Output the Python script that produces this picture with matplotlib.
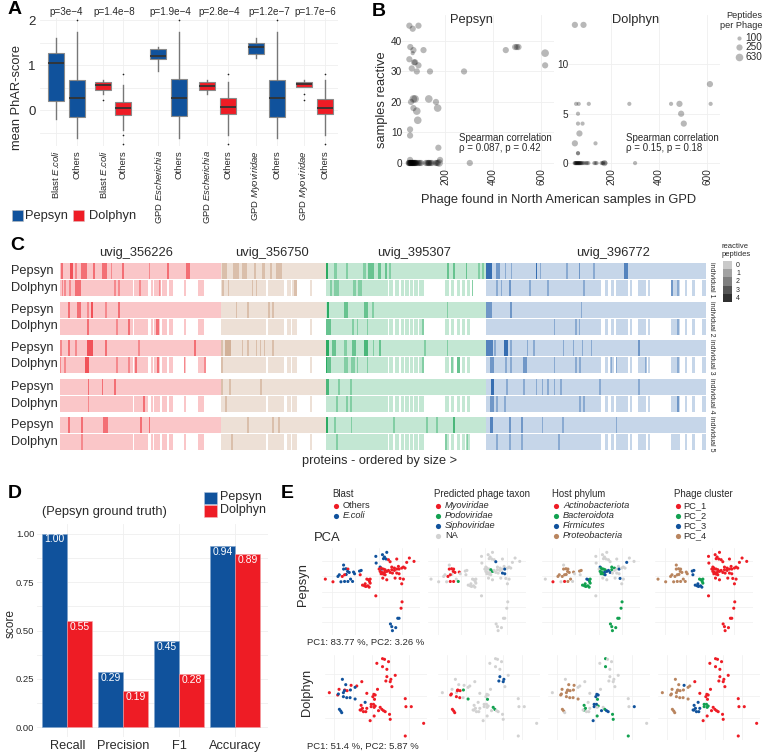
import numpy as np
import matplotlib
matplotlib.use('Agg')
import matplotlib.pyplot as plt
from matplotlib.patches import Rectangle

plt.rcParams['font.family'] = ['Liberation Sans', 'DejaVu Sans']
plt.rcParams['mathtext.fontset'] = 'custom'
plt.rcParams['mathtext.rm'] = 'Liberation Sans'
plt.rcParams['mathtext.it'] = 'Liberation Sans:italic'
plt.rcParams['axes.unicode_minus'] = True

W, H = 768, 754
BLUE = '#10529C'
RED = '#EE1C25'
GREEN = '#12A150'
TAN = '#B9855F'
GREY = '#D2D2D2'
GRID = '#EFEFEF'
INK = '#2A2A2A'

# ---- panel A: box stats, one entry per box
box_labels = ['Blast $\\mathit{E}$.$\\mathit{coli}$', 'Others', 'Blast $\\mathit{E}$.$\\mathit{coli}$', 'Others',
              'GPD $\\mathit{Escherichia}$', 'Others', 'GPD $\\mathit{Escherichia}$', 'Others',
              'GPD $\\mathit{Myoviridae}$', 'Others', 'GPD $\\mathit{Myoviridae}$', 'Others']
box_q1 = [0.20, -0.16, 0.45, -0.10, 1.13, -0.13, 0.45, -0.08, 1.25, -0.15, 0.51, -0.09]
box_med = [1.04, 0.26, 0.55, 0.04, 1.20, 0.26, 0.54, 0.07, 1.41, 0.26, 0.57, 0.05]
box_q3 = [1.26, 0.66, 0.62, 0.18, 1.35, 0.69, 0.63, 0.27, 1.50, 0.68, 0.62, 0.24]
box_lo = [-0.20, -0.63, 0.35, -0.45, 0.88, -0.63, 0.35, -0.55, 1.15, -0.63, 0.51, -0.55]
box_hi = [1.60, 1.73, 0.67, 0.56, 1.40, 1.73, 0.67, 0.62, 1.60, 1.73, 0.67, 0.67]
box_fliers = [[], [2.0], [0.22], [0.80, -0.55, -0.75], [], [2.0], [], [0.80, -0.75],
              [], [2.0], [0.35, 0.22], [0.80, -0.75]]
box_method = ['P', 'P', 'D', 'D'] * 3
p_labels = ['p=3e\u22124', 'p=1.4e\u22128', 'p=1.9e\u22124', 'p=2.8e\u22124', 'p=1.2e\u22127', 'p=1.7e\u22126']

# ---- panel B: phage found vs samples reactive, peptides per phage
pep_found = [51, 65, 89, 55, 68, 65, 110, 51, 71, 75, 89, 61, 82, 137, 279, 453, 492, 499, 506, 617, 617,
             75, 68, 132, 58, 162, 169, 68, 82, 86, 54, 54, 172, 179, 54,
             48, 50, 52, 54, 55, 57, 58, 60, 62, 63, 65, 66, 68, 70, 72, 74, 75, 78, 80, 85, 90, 95, 100,
             120, 125, 130, 132, 135, 140, 145, 160, 165, 170, 175, 303]
pep_react = [45, 44, 45, 38, 37, 36, 37, 34, 33, 33, 32, 31, 30, 30, 30, 37, 38, 38, 38, 36, 32,
             21, 21, 21, 20, 20, 18, 18, 17, 14, 11, 9, 5, 1, 1,
             0, 0, 0, 0, 0, 0, 0, 0, 0, 0, 0, 0, 0, 0, 0, 0, 0, 0, 0, 0, 0, 0, 0,
             0, 0, 0, 0, 0, 0, 0, 0, 0, 0, 0, 0]
pep_size = [250, 250, 250, 250, 250, 100, 250, 250, 250, 250, 250, 250, 250, 250, 250, 250, 250, 250, 250, 630, 250,
            630, 630, 630, 250, 250, 630, 250, 630, 630, 250, 250, 250, 250, 250,
            250, 250, 250, 250, 250, 250, 250, 250, 250, 250, 250, 250, 250, 250, 250, 250, 250, 250, 250, 250, 250, 250, 250,
            250, 250, 250, 250, 250, 250, 250, 250, 250, 250, 630, 250]
dol_found = [49, 85, 612, 54, 65, 107, 276, 450, 485, 615, 62, 492, 62, 81, 503, 68, 49, 135, 62, 62,
             48, 50, 52, 54, 56, 58, 60, 62, 64, 66, 68, 70, 72, 75, 78, 82, 88, 95, 100, 105,
             130, 135, 140, 160, 165, 168, 172, 176, 300]
dol_react = [14, 14, 8, 6, 6, 6, 6, 6, 6, 6, 5, 5, 4, 4, 4, 3, 2, 2, 1, 1,
             0, 0, 0, 0, 0, 0, 0, 0, 0, 0, 0, 0, 0, 0, 0, 0, 0, 0, 0, 0,
             0, 0, 0, 0, 0, 0, 0, 0, 0]
dol_size = [250, 250, 250, 100, 100, 100, 100, 100, 250, 100, 100, 250, 100, 100, 250, 250, 250, 100, 100, 100,
            100, 100, 100, 100, 100, 100, 100, 100, 100, 100, 100, 100, 100, 100, 100, 100, 100, 100, 100, 100,
            100, 100, 100, 100, 100, 100, 250, 100, 100]
size_breaks = [100, 250, 630]

# ---- panel C: protein blocks and reactive peptide hits (start, end, count)
genome_names = ['uvig_356226', 'uvig_356750', 'uvig_395307', 'uvig_396772']
genome_edges = [0, 483, 797, 1277, 1938]
dolphyn_blocks = [(0, 218), (222, 265), (272, 278), (282, 300), (306, 322), (327, 338), (372, 378), (415, 433),
                  (483, 618), (623, 672), (680, 692), (697, 712), (750, 755),
                  (797, 985), (987, 1000), (1005, 1017), (1023, 1031), (1035, 1047), (1049, 1060), (1063, 1073),
                  (1077, 1093), (1155, 1167), (1173, 1183), (1190, 1200), (1205, 1215), (1220, 1230),
                  (1277, 1622), (1635, 1645), (1652, 1662), (1667, 1704), (1710, 1717), (1734, 1759), (1764, 1770),
                  (1832, 1859), (1875, 1882), (1897, 1904), (1927, 1937)]
hits_pep1 = [(3, 10, 2), (30, 38, 3), (45, 50, 1), (63, 80, 2), (99, 105, 2), (125, 142, 2), (152, 156, 1),
             (187, 192, 2), (267, 270, 1), (322, 327, 2), (378, 390, 2), (485, 500, 1), (520, 537, 1), (545, 562, 1),
             (583, 588, 1), (605, 615, 1), (630, 635, 1), (648, 666, 1), (798, 803, 4), (823, 830, 1), (858, 863, 1),
             (910, 918, 1), (925, 943, 2), (955, 962, 2), (975, 980, 2), (987, 992, 1), (1160, 1166, 2),
             (1179, 1184, 2), (1217, 1222, 2), (1254, 1259, 1), (1267, 1272, 1), (1279, 1297, 4), (1309, 1320, 2),
             (1334, 1339, 1), (1352, 1356, 1), (1427, 1432, 4), (1440, 1444, 1), (1519, 1524, 1), (1556, 1560, 2),
             (1600, 1604, 1), (1692, 1704, 3)]
hits_dol1 = [(5, 10, 1), (12, 17, 1), (27, 32, 1), (45, 63, 2), (163, 168, 1), (175, 180, 1), (238, 242, 1),
             (298, 303, 1), (485, 492, 1), (504, 508, 1), (575, 580, 1), (588, 592, 1), (703, 710, 1), (810, 817, 1),
             (823, 838, 1), (878, 888, 1), (895, 905, 1), (1235, 1240, 2), (1309, 1314, 1), (1322, 1327, 1),
             (1347, 1352, 2), (1407, 1412, 1), (1462, 1467, 1), (1570, 1574, 1), (1834, 1839, 2), (1852, 1857, 1)]
hits_pep2 = [(25, 31, 2), (50, 62, 2), (82, 86, 1), (93, 98, 3), (136, 141, 1), (175, 180, 2), (527, 531, 1),
             (562, 567, 1), (625, 630, 1), (637, 641, 1), (802, 807, 4), (853, 863, 2), (913, 925, 2), (937, 943, 1),
             (1160, 1165, 1), (1279, 1295, 2), (1351, 1356, 2), (1562, 1567, 1)]
hits_dol2 = [(82, 86, 2), (168, 173, 1), (205, 210, 2), (287, 297, 2), (798, 812, 2), (877, 882, 1), (890, 895, 1),
             (920, 925, 1), (1085, 1092, 1), (1481, 1486, 1), (1545, 1550, 1), (1557, 1561, 1), (1850, 1857, 1)]
hits_pep3 = [(0, 5, 1), (25, 31, 2), (45, 50, 1), (80, 100, 3), (136, 142, 2), (235, 240, 1), (403, 408, 2),
             (483, 490, 1), (495, 512, 2), (545, 550, 1), (562, 567, 1), (588, 592, 1), (600, 604, 1), (612, 616, 1),
             (637, 641, 1), (798, 807, 4), (815, 827, 2), (852, 861, 1), (877, 887, 2), (913, 925, 3), (938, 943, 1),
             (957, 962, 2), (1093, 1098, 1), (1160, 1165, 1), (1279, 1298, 3), (1302, 1307, 1), (1333, 1343, 4),
             (1351, 1356, 1), (1401, 1405, 1), (1420, 1425, 1), (1508, 1512, 1), (1538, 1542, 1), (1565, 1569, 1),
             (1593, 1597, 1), (1735, 1740, 2)]
hits_dol3 = [(0, 4, 1), (12, 18, 1), (75, 86, 3), (168, 173, 1), (205, 210, 1), (225, 232, 2), (290, 298, 2),
             (372, 376, 1), (433, 439, 2), (483, 488, 1), (797, 800, 4), (800, 812, 2), (852, 865, 1), (872, 885, 1),
             (892, 895, 1), (920, 925, 1), (1085, 1092, 1), (1173, 1178, 1), (1190, 1200, 2), (1290, 1302, 2),
             (1335, 1340, 1), (1351, 1356, 1), (1389, 1401, 2), (1481, 1486, 1), (1545, 1550, 1), (1557, 1562, 1),
             (1650, 1655, 1), (1667, 1672, 1), (1755, 1760, 1), (1850, 1857, 1)]
hits_pep4 = [(83, 87, 2), (125, 129, 2), (162, 167, 2), (483, 488, 1), (506, 513, 1), (600, 605, 1), (798, 806, 3),
             (834, 839, 1), (870, 875, 1), (1292, 1302, 4), (1339, 1344, 1), (1390, 1394, 1), (1427, 1431, 1),
             (1445, 1449, 1), (1462, 1467, 1), (1482, 1486, 1), (1500, 1505, 1), (1617, 1622, 1), (1735, 1740, 1)]
hits_dol4 = [(83, 87, 1), (248, 254, 2), (495, 500, 1), (828, 833, 1), (858, 863, 1), (870, 875, 1), (1290, 1302, 2),
             (1309, 1314, 1), (1333, 1338, 1), (1557, 1562, 1), (1569, 1574, 1), (1852, 1857, 2)]
hits_pep5 = [(25, 31, 2), (63, 68, 2), (130, 143, 2), (241, 247, 2), (267, 271, 2), (562, 567, 1), (636, 642, 1),
             (654, 659, 1), (798, 803, 4), (822, 827, 1), (872, 876, 1), (1000, 1006, 1), (1099, 1104, 1),
             (1129, 1134, 1), (1180, 1185, 3), (1290, 1300, 3), (1347, 1352, 2), (1383, 1388, 2), (1445, 1449, 1),
             (1507, 1512, 1), (1667, 1672, 1)]
hits_dol5 = [(63, 68, 1), (513, 518, 1), (828, 833, 1), (1155, 1160, 1), (1219, 1224, 1), (1309, 1314, 1),
             (1347, 1352, 1), (1383, 1388, 1), (1494, 1499, 1)]

# ---- panel D
metric_names = ['Recall', 'Precision', 'F1', 'Accuracy']
score_pepsyn = [1.00, 0.285, 0.445, 0.935]
score_dolphyn = [0.55, 0.185, 0.275, 0.893]
label_pepsyn = ['1.00', '0.29', '0.45', '0.94']
label_dolphyn = ['0.55', '0.19', '0.28', '0.89']

# ---- panel E: PCA scores and one category letter per phage
pca_pep_1 = [150, 173, 188, 192, 205, 212, 205, 218, 217, 213,
             222, 235, 197, 218, 226, 232, 208, 201, 208, 238,
             253, 258, 255, 262, 268, 272, 278, 282, 285, 280,
             275, 285, 283, 270, 302, 302, 322, 328, 335, 325,
             333, 303, 315, 320, 340, 345, 365, 403, 417, 395,
             370, 385, 350, 358, 312, 318, 325, 330, 315, 320,
             328, 335, 340, 350, 358, 365, 372, 380, 390, 345,
             352, 365, 372, 325, 330, 318, 323, 335, 375, 385,
             360, 380, 381, 378, 368, 372, 346, 350, 362, 352]
pca_pep_2 = [298, 306, 290, 285, 256, 267, 268, 268, 275, 284,
             278, 277, 306, 305, 298, 305, 285, 290, 305, 282,
             274, 272, 285, 316, 318, 320, 318, 322, 310, 300,
             298, 298, 305, 312, 348, 230, 225, 232, 218, 237,
             238, 250, 262, 268, 240, 246, 238, 235, 245, 248,
             260, 262, 262, 265, 268, 265, 268, 270, 275, 278,
             278, 275, 272, 270, 272, 268, 268, 265, 265, 278,
             280, 280, 282, 283, 285, 282, 295, 300, 296, 298,
             295, 312, 366, 385, 415, 415, 432, 440, 443, 452]
blast_pep = 'OOEEEEEOEE' 'EEEEEEOOEE' 'EEOOOOOOOO' 'OOOOOEEEEE' 'EEEEOOOOOO' 'OOOOOOOOOO' 'OOOOOOOOOO' 'OOOOOOOOOO' 'OOOOEEEEEE'
taxon_pep = 'NNNNNMMMMN' 'MMNMNPMMMN' 'NNNNNNNNNN' 'NNNNNNNNNN' 'NNNNNSNNNN' 'NNNNNNNPNN' 'NPNNNNSNNN' 'NSSNNNNNNN' 'NNNNNNNNNN'
host_pep = 'NAPPNPPPPP' 'PPNPPNPPAN' 'PPNBBBBBBF' 'FBBBNNNNNN' 'NNFBNNNNNF' 'NNBBNBBBBB' 'FFFBNNFNNF' 'NNNBFBNNFN' 'NNBBBBBBBB'
cluster_pep = '4444444444' '4444444444' '3333333322' '2223111111' '1111111111' '1111111111' '1111111111' '1111111111' '1111111111'

pca_dol_1 = [163, 188, 192, 209, 205, 228, 245, 260, 275, 307,
             296, 300, 293, 298, 216, 202, 212, 226, 208, 240,
             190, 205, 215, 225, 240, 193, 197, 200, 270, 258,
             262, 258, 265, 272, 255, 275, 288, 295, 300, 288,
             297, 315, 320, 310, 325, 330, 343, 345, 297, 285,
             322, 328, 305, 340, 322, 335, 360, 335, 347, 345,
             332, 350, 390, 392, 408, 445, 390]
pca_dol_2 = [278, 285, 268, 270, 278, 256, 258, 245, 280, 268,
             283, 285, 290, 298, 272, 238, 254, 270, 272, 262,
             282, 290, 293, 293, 297, 328, 333, 338, 307, 316,
             325, 330, 335, 335, 330, 325, 313, 313, 318, 320,
             322, 322, 328, 332, 332, 335, 343, 358, 348, 362,
             176, 178, 190, 185, 200, 208, 226, 230, 238, 245,
             243, 260, 296, 320, 320, 370, 408]
blast_dol = 'OOOOEOOOOO' 'OOOOOEEEEE' 'EEEEEEEEEO' 'OOOOOOOOOO' 'OOOOOOOOOO' 'OOOOOOOOOO' 'OOOOOOO'
taxon_dol = 'NMNMNNNNNN' 'NNNPMNNPMN' 'MMMNPMMMNN' 'NNNNNNNNNN' 'NPPNNNNNNN' 'NNNNNNNSSS' 'SNNNNNN'
host_dol = 'NPPPPPNNNN' 'FFFBPNPPPN' 'PPPPPPPNNB' 'BBNNNNFFBF' 'NNBFFFBBBF' 'BNNNBNNNNN' 'NNNNFNB'
cluster_dol = '4444434111' '1111444444' '4444444433' '3333332222' '2111111111' '1111111111' '1111111'

blast_colors = {'O': RED, 'E': BLUE}
taxon_colors = {'M': RED, 'P': GREEN, 'S': BLUE, 'N': GREY}
host_colors = {'A': RED, 'B': GREEN, 'F': BLUE, 'P': TAN, 'N': GREY}
cluster_colors = {'1': RED, '2': GREEN, '3': BLUE, '4': TAN}


def px_axes(x0, y0, x1, y1):
    ax = fig.add_axes([x0 / W, 1 - y1 / H, (x1 - x0) / W, (y1 - y0) / H])
    ax.patch.set_alpha(0)
    for s in ax.spines.values():
        s.set_visible(False)
    ax.tick_params(length=0, colors=INK)
    ax.set_axisbelow(True)
    return ax


fig = plt.figure(figsize=(W / 100, H / 100), dpi=100)

# overlay in pixel coordinates for free text and legends
over = fig.add_axes([0, 0, 1, 1], zorder=10)
over.set_xlim(0, W)
over.set_ylim(H, 0)
over.axis('off')
over.patch.set_alpha(0)


def note(x, y, s, size=7, ha='left', va='center', **kw):
    kw.setdefault('color', INK)
    over.text(x, y, s, fontsize=size, ha=ha, va=va, **kw)


for letter, lx, ly in zip('ABCDE', [8, 372, 10, 8, 281], [10, 11, 246, 494, 494]):
    note(lx, ly, letter, size=14, fontweight='bold', color='black')

# ---- A
ax = px_axes(40, 18, 338, 146)
slots = [0, 1, 2.24, 3.19, 4.86, 5.86, 7.19, 8.19, 9.52, 10.52, 11.81, 12.81]
stats = [dict(q1=a, med=b, q3=c, whislo=d, whishi=e, fliers=f) for a, b, c, d, e, f in
         zip(box_q1, box_med, box_q3, box_lo, box_hi, box_fliers)]
art = ax.bxp(stats, positions=slots, widths=0.76, patch_artist=True, showcaps=False,
             flierprops=dict(marker='o', markersize=1.2, markeredgewidth=0, markerfacecolor='#222222'),
             whiskerprops=dict(color='#777777', lw=1.0),
             medianprops=dict(color='#333333', lw=1.3),
             boxprops=dict(edgecolor='#8A8A8A', lw=0.8))
for patch, m in zip(art['boxes'], box_method):
    patch.set_facecolor(BLUE if m == 'P' else RED)
ax.set_xlim(-0.76, 13.43)
ax.set_ylim(-0.8, 2.05)
ax.set_yticks([0, 1, 2])
ax.set_yticks([-0.5, 0.5, 1.5], minor=True)
ax.tick_params(axis='y', which='minor', length=0)
ax.grid(axis='y', which='both', color=GRID, lw=0.6)
ax.grid(axis='x', color=GRID, lw=0.6)
ax.tick_params(axis='y', labelsize=9.5, pad=3)
ax.set_xticks(slots)
ax.set_xticklabels(box_labels, rotation=90, fontsize=6.8, va='top', ha='center')
ax.tick_params(axis='x', pad=3)
note(17, 97, 'mean PhAR-score', size=9.3, rotation=90, ha='center')
for px, s in zip([66, 114, 170, 219, 269, 315], p_labels):
    note(px, 12, s, size=7.1, ha='center')
over.add_patch(Rectangle((12, 210), 11, 11, fc=BLUE, ec='#BBBBBB', lw=0.4))
over.add_patch(Rectangle((73, 210), 11, 11, fc=RED, ec='#DDBBBB', lw=0.4))
note(25, 216, 'Pepsyn', size=9.3)
note(89, 216, 'Dolphyn', size=9.3)


# ---- B
def size_scale(v):
    return np.interp(np.log(v), np.log(size_breaks), [9, 20, 30])


for box, fx, fy, fs, ylim, yt, title in [((400, 15, 554, 170), pep_found, pep_react, pep_size, (-2.3, 48.5), [0, 10, 20, 30, 40], 'Pepsyn'),
                                         ((566, 15, 720, 170), dol_found, dol_react, dol_size, (-0.7, 15), [0, 5, 10], 'Dolphyn')]:
    ax = px_axes(*box)
    ax.scatter(fx, fy, s=size_scale(np.array(fs)), c='black', alpha=0.28, linewidths=0)
    ax.set_xlim(12, 654)
    ax.set_ylim(*ylim)
    ax.set_xticks([200, 400, 600])
    ax.set_yticks(yt)
    ax.grid(color=GRID, lw=0.6)
    ax.tick_params(axis='x', labelsize=7.2, labelrotation=90, pad=-1)
    ax.tick_params(axis='y', labelsize=7.2, pad=-1.5)
    for t in ax.get_xticklabels():
        t.set_va('top')
note(471, 20, 'Pepsyn', size=9.3, ha='center')
note(636, 20, 'Dolphyn', size=9.3, ha='center')
note(459, 138, 'Spearman correlation', size=7)
note(459, 148, '\u03c1 = 0.087, p = 0.42', size=7)
note(626, 138, 'Spearman correlation', size=7)
note(626, 148, '\u03c1 = 0.15, p = 0.18', size=7)
note(382, 100, 'samples reactive', size=9.3, rotation=90, ha='center')
note(559, 200, 'Phage found in North American samples in GPD', size=9.3, ha='center')
note(762, 16, 'Peptides', size=6.6, ha='right')
note(762, 26, 'per Phage', size=6.6, ha='right')
for b, py in zip(size_breaks, [38, 47, 57]):
    over.scatter([739], [py], s=size_scale(b), c='black', alpha=0.28, linewidths=0)
    note(745, py, str(b), size=7.2)

# ---- C
ax = px_axes(60, 263, 706, 450)
ax.set_xlim(0, 1938)
ax.set_ylim(450, 263)
ax.axis('off')
genome_colors = [RED, TAN, GREEN, '#1E5CA8']
count_alpha = [0.25, 0.42, 0.6, 0.8, 1.0]
row_tops = [263, 302, 340, 379, 417]
all_hits = [(hits_pep1, hits_dol1), (hits_pep2, hits_dol2), (hits_pep3, hits_dol3), (hits_pep4, hits_dol4), (hits_pep5, hits_dol5)]
for top, (hp, hd) in zip(row_tops, all_hits):
    for g in range(4):
        ax.add_patch(Rectangle((genome_edges[g], top), genome_edges[g + 1] - genome_edges[g], 16,
                               fc=genome_colors[g], alpha=count_alpha[0], lw=0))
    for a, b in dolphyn_blocks:
        g = np.searchsorted(genome_edges, a, side='right') - 1
        ax.add_patch(Rectangle((a, top + 16.5), b - a, 16, fc=genome_colors[g], alpha=count_alpha[0], lw=0))
    for yy, hh in [(top, hp), (top + 16.5, hd)]:
        for a, b, c in hh:
            g = np.searchsorted(genome_edges, a, side='right') - 1
            ax.add_patch(Rectangle((a, yy), b - a, 16, fc=genome_colors[g], alpha=count_alpha[c] * 0.85, lw=0))
    note(11, top + 8, 'Pepsyn', size=9.2)
    note(11, top + 24.5, 'Dolphyn', size=9.2)
for i, top in enumerate(row_tops):
    note(711, top + 16.5, 'individual %d' % (i + 1), size=5, rotation=-90, ha='center')
for px, s in zip([136, 272, 414, 613], genome_names):
    note(px, 253, s, size=9.3, ha='center')
note(380, 461, 'proteins - ordered by size >', size=9.2, ha='center')
note(722, 247, 'reactive', size=5.5)
note(722, 255, 'peptides', size=5.5)
for i, c in enumerate(['#C9C9C9', '#A2A2A2', '#7F7F7F', '#555555', '#303030']):
    over.add_patch(Rectangle((723, 261 + i * 8.2), 8.5, 8.2, fc=c, lw=0))
    note(736, 265.5 + i * 8.2, str(i), size=5)

# ---- D
ax = px_axes(37, 524, 268, 737)
xx = np.arange(4)
ax.bar(xx - 0.225, score_pepsyn, 0.45, color=BLUE, edgecolor='#7FA3CC', lw=0.4)
ax.bar(xx + 0.225, score_dolphyn, 0.45, color=RED, edgecolor='#F5A0A4', lw=0.4)
for x, v, s in zip(xx - 0.225, score_pepsyn, label_pepsyn):
    ax.text(x, v - 0.03, s, color='white', fontsize=7.5, ha='center', va='center')
for x, v, s in zip(xx + 0.225, score_dolphyn, label_dolphyn):
    ax.text(x, v - 0.03, s, color='white', fontsize=7.5, ha='center', va='center')
ax.set_xlim(-0.54, 3.59)
ax.set_ylim(-0.05, 1.05)
ax.set_xticks(xx)
ax.set_xticklabels(metric_names, fontsize=9.2)
ax.set_yticks([0, 0.25, 0.5, 0.75, 1.0])
ax.set_yticklabels(['0.00', '0.25', '0.50', '0.75', '1.00'], fontsize=6.8)
ax.set_yticks([0.125, 0.375, 0.625, 0.875], minor=True)
ax.tick_params(axis='y', which='minor', length=0)
ax.grid(axis='y', which='both', color=GRID, lw=0.6)
ax.grid(axis='x', color=GRID, lw=0.6)
ax.tick_params(axis='x', pad=2)
ax.tick_params(axis='y', pad=2)
note(11, 623, 'score', size=8.6, rotation=90, ha='center')
note(42, 512, '(Pepsyn ground truth)', size=9.3)
over.add_patch(Rectangle((204, 492), 13, 12, fc=BLUE, ec='#AFC4DD', lw=0.4))
over.add_patch(Rectangle((204, 505), 13, 12, fc=RED, ec='#F5B8BB', lw=0.4))
note(220, 497, 'Pepsyn', size=9)
note(220, 510.5, 'Dolphyn', size=9)

# ---- E
for title, lx, items, cols, italic in [
        ('Blast', 332, ['Others', 'E.coli'], [RED, BLUE], [False, True]),
        ('Predicted phage taxon', 434, ['Myoviridae', 'Podoviridae', 'Siphoviridae', 'NA'], [RED, GREEN, BLUE, GREY], [True, True, True, False]),
        ('Host phylum', 552, ['Actinobacteriota', 'Bacteroidota', 'Firmicutes', 'Proteobacteria'], [RED, GREEN, BLUE, TAN], [True] * 4),
        ('Phage cluster', 674, ['PC_1', 'PC_2', 'PC_3', 'PC_4'], [RED, GREEN, BLUE, TAN], [False] * 4)]:
    note(lx, 494, title, size=6.9)
    for i, (s, c, it) in enumerate(zip(items, cols, italic)):
        py = 506 + i * 10
        over.scatter([lx + 4], [py], s=14, c=c, linewidths=0)
        note(lx + 11 if title != 'Phage cluster' else lx + 9, py, s, size=6.7,
             fontstyle='italic' if it else 'normal')
note(314, 538, 'PCA', size=9.4)
note(303, 585, 'Pepsyn', size=9.3, rotation=90, ha='center')
note(307, 692, 'Dolphyn', size=9.3, rotation=90, ha='center')
note(307, 642, 'PC1: 83.77 %, PC2: 3.26 %', size=6.8)
note(307, 746, 'PC1: 51.4 %, PC2: 5.87 %', size=6.8)

top_lefts = [322, 427.7, 542, 654.7]
bot_lefts = [325, 438, 548, 658]
pep_cats = [(blast_pep, blast_colors), (taxon_pep, taxon_colors), (host_pep, host_colors), (cluster_pep, cluster_colors)]
dol_cats = [(blast_dol, blast_colors), (taxon_dol, taxon_colors), (host_dol, host_colors), (cluster_dol, cluster_colors)]
for left, (cats, cmap) in zip(top_lefts, pep_cats):
    ax = px_axes(left, 548, left + 98, 635)
    ax.scatter(pca_pep_1, pca_pep_2, s=5, c=[cmap[k] for k in cats], linewidths=0)
    ax.set_xlim(140, 435)
    ax.set_ylim(465, 205)
    ax.set_xticks([170, 240, 311, 380])
    ax.set_yticks([245, 290, 335, 380, 425])
    ax.set_xticklabels([])
    ax.set_yticklabels([])
    ax.grid(color=GRID, lw=0.5)
for left, (cats, cmap) in zip(bot_lefts, dol_cats):
    ax = px_axes(left, 655, left + 102, 740)
    ax.scatter(pca_dol_1, pca_dol_2, s=5, c=[cmap[k] for k in cats], linewidths=0)
    ax.set_xlim(150, 455)
    ax.set_ylim(420, 165)
    ax.set_xticks([178, 234, 290, 345, 400])
    ax.set_yticks([223, 289, 355])
    ax.set_xticklabels([])
    ax.set_yticklabels([])
    ax.grid(color=GRID, lw=0.5)

fig.savefig('out.png', dpi=100)
